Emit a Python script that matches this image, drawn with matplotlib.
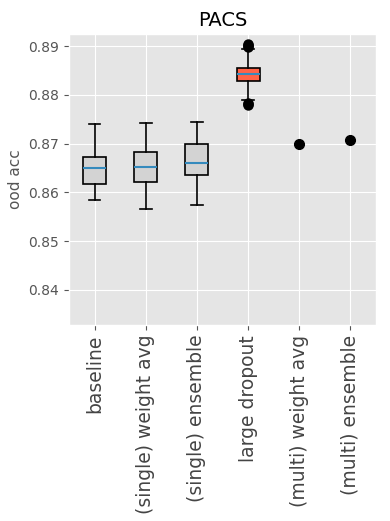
import numpy as np
import matplotlib
matplotlib.use("Agg")
import matplotlib.pyplot as plt

plt.style.use("ggplot")

# box summaries
box_names = ["baseline", "(single) weight avg", "(single) ensemble", "large dropout"]
box_low = [0.8584, 0.8566, 0.8574, 0.8789]
box_q1 = [0.8617, 0.8621, 0.8636, 0.8828]
box_med = [0.8650, 0.8653, 0.8660, 0.8842]
box_q3 = [0.8673, 0.8683, 0.8699, 0.8855]
box_high = [0.8740, 0.8742, 0.8744, 0.8894]
box_fliers = [[], [], [], [0.8905, 0.8903, 0.8900, 0.8898, 0.8784, 0.8781, 0.8779]]
box_colors = ["lightgrey", "lightgrey", "lightgrey", "tomato"]

# single runs
point_names = ["(multi) weight avg", "(multi) ensemble"]
point_vals = [0.8699, 0.8707]

labels = box_names + point_names

fig, ax = plt.subplots(figsize=(3.9, 5.21), dpi=100)

stats = []
for i in range(len(box_names)):
    stats.append(dict(label=box_names[i], whislo=box_low[i], q1=box_q1[i],
                      med=box_med[i], q3=box_q3[i], whishi=box_high[i],
                      fliers=box_fliers[i]))

bp = ax.bxp(stats, positions=range(1, len(box_names) + 1), patch_artist=True,
            flierprops=dict(marker="o", markerfacecolor="black", markeredgecolor="black",
                            markersize=6, markeredgewidth=1.5),
            medianprops=dict(color="#348ABD", linewidth=1.5),
            boxprops=dict(edgecolor="black", linewidth=1.2),
            whiskerprops=dict(color="black", linewidth=1.2),
            capprops=dict(color="black", linewidth=1.2))
for patch, c in zip(bp["boxes"], box_colors):
    patch.set_facecolor(c)

px = np.arange(len(box_names) + 1, len(labels) + 1)
ax.plot(px, point_vals, "o", color="black", markersize=7)

ax.set_xlim(0.5, len(labels) + 0.5)
ax.set_ylim(0.8328, 0.8925)
ax.set_xticks(range(1, len(labels) + 1))
ax.set_xticklabels(labels, rotation=90, fontsize=13.5, color="#444444")
ax.set_yticks([0.84, 0.85, 0.86, 0.87, 0.88, 0.89])
ax.tick_params(axis="y", labelsize=10)
ax.set_ylabel("ood acc", fontsize=11)
ax.set_title("PACS", fontsize=14)

fig.subplots_adjust(left=0.177, right=0.964, top=0.935, bottom=0.376)
fig.savefig("out.png", dpi=100)
